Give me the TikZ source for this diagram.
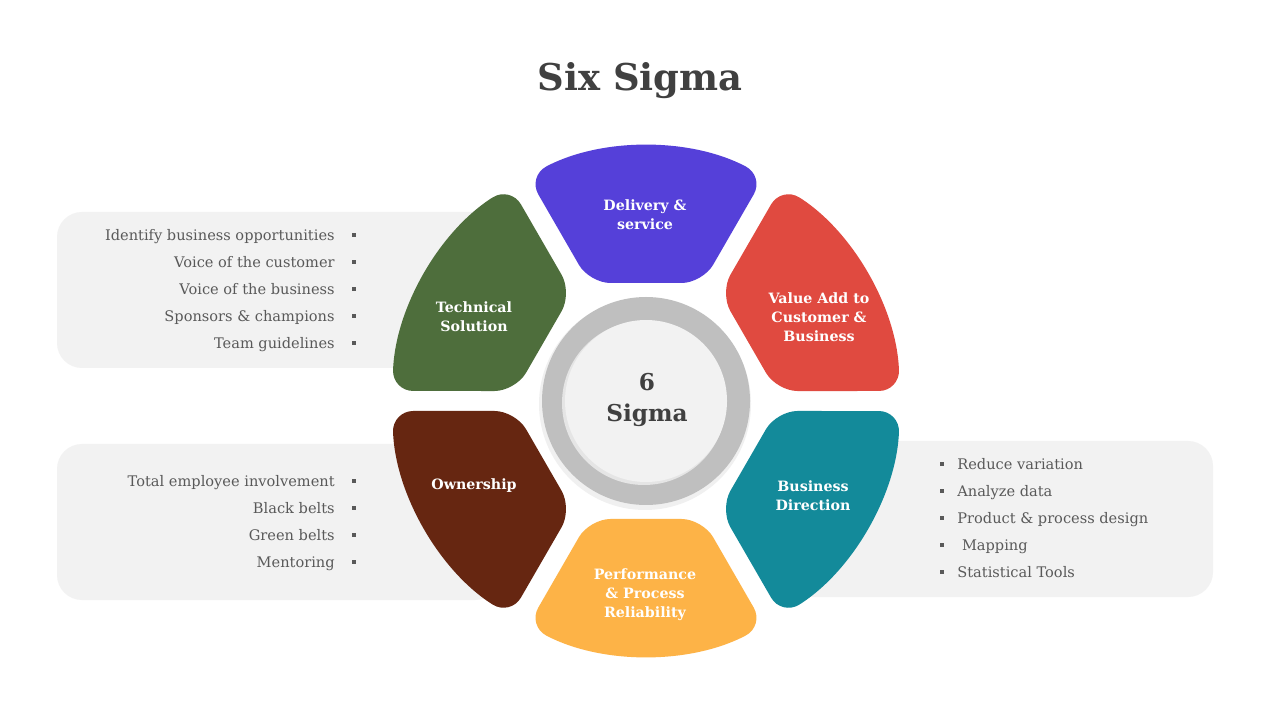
\documentclass[tikz,border=0pt]{standalone}
\usepackage{fontspec}
\setmainfont{DejaVu Serif}
\usetikzlibrary{positioning}
\definecolor{sigPurple}{RGB}{85,64,217}
\definecolor{sigRed}{RGB}{224,74,64}
\definecolor{sigTeal}{RGB}{19,138,154}
\definecolor{sigYellow}{RGB}{253,179,71}
\definecolor{sigBrown}{RGB}{102,38,17}
\definecolor{sigGreen}{RGB}{78,110,60}
\definecolor{panelGrey}{RGB}{242,242,242}
\definecolor{ringGrey}{RGB}{191,191,191}
\definecolor{inkGrey}{RGB}{64,64,64}
\definecolor{txtGrey}{RGB}{89,89,89}

\begin{document}
\begin{tikzpicture}[
      x=0.02cm,y=0.02cm,
      seg/.style={rounded corners=0.42cm},
      panel/.style={fill=panelGrey,rounded corners=0.5cm},
      lbl/.style={text=white,font=\fontsize{8.1}{10.8}\selectfont\bfseries,align=center},
      itm/.style={text=txtGrey,font=\fontsize{8.3}{10}\selectfont,inner sep=0pt,
                  text height=1.6ex,text depth=0.4ex},
      blt/.style={fill=txtGrey,minimum size=2.6pt,inner sep=0pt}]

    \fill[white] (0,0) rectangle (1280,720);
    \useasboundingbox (0,0) rectangle (1280,720);

    % ---------- title ----------
    \node[text=inkGrey,font=\fontsize{21}{24}\selectfont\bfseries] (title) at (640,639) {Six Sigma};

    % ---------- side panels ----------
    \fill[panel] (57,352) rectangle (500,508);
    \fill[panel] (57,120) rectangle (500,276);
    \fill[panel] (780,123) rectangle (1213,279);

    % ---------- wheel ----------
    \coordinate (ctr) at (646,319);
    \foreach \ang/\col in {90/sigPurple,30/sigRed,-30/sigTeal,-90/sigYellow,210/sigBrown,150/sigGreen}{
      \begin{scope}[shift={(ctr)},rotate=\ang-90]
        \fill[\col,seg] (-56.6,118) -- (-118.2,224.8)
          arc[start angle=117.74,end angle=62.26,radius=254] -- (56.6,118) -- cycle;
      \end{scope}
    }
    \fill[black!6] ([shift={(-1,-3)}]ctr) circle[radius=106];
    \fill[ringGrey] (ctr) circle[radius=104];
    \fill[black!10] ([shift={(-2,-2)}]ctr) circle[radius=82];
    \fill[panelGrey] (ctr) circle[radius=81];
    \node[text=inkGrey,font=\fontsize{13.2}{18}\selectfont\bfseries,align=center] (core) at (647,320) {6\\Sigma};

    % ---------- segment labels ----------
    \node[lbl] (dlv) at (645,505) {Delivery \&\\service};
    \node[lbl] (val) at (819,403) {Value Add to\\Customer \&\\Business};
    \node[lbl] (biz) at (813,224) {Business\\Direction};
    \node[lbl] (prf) at (645,125) {Performance\\\& Process\\Reliability};
    \node[lbl] (own) at (474,234) {Ownership};
    \node[lbl] (tec) at (474,403) {Technical\\Solution};

    % ---------- bullet lists ----------
    \foreach \t [count=\i] in {Identify business opportunities,Voice of the customer,
        Voice of the business,Sponsors \& champions,Team guidelines}{
      \node[itm,anchor=east] (tl\i) at (335,512-27*\i) {\t};
      \node[blt] (tb\i) at (354,512-27*\i) {};
    }
    \foreach \t [count=\i] in {Total employee involvement,Black belts,Green belts,Mentoring}{
      \node[itm,anchor=east] (bl\i) at (335,266-27*\i) {\t};
      \node[blt] (bb\i) at (354,266-27*\i) {};
    }
    \foreach \t [count=\i] in {Reduce variation,Analyze data,Product \& process design,
        \ Mapping,Statistical Tools}{
      \node[itm,anchor=west] (rl\i) at (957,283-27*\i) {\t};
      \node[blt] (rb\i) at (942,283-27*\i) {};
    }
  \end{tikzpicture}
\end{document}
